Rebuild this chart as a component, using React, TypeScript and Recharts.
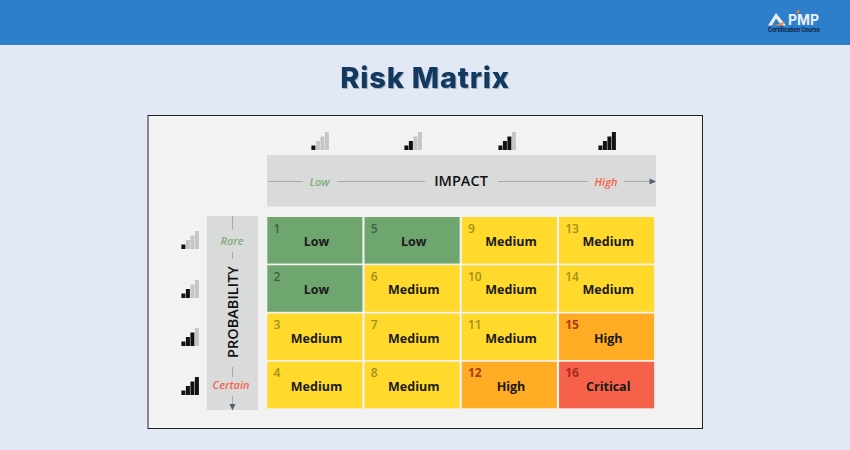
import { BarChart, Bar, XAxis, YAxis, Cell } from "recharts";

const impactLevels = ["Very low", "Low", "High", "Very high"];
const probabilityLevels = ["Rare", "Unlikely", "Likely", "Certain"];
const scores = [
  [1, 5, 9, 13],
  [2, 6, 10, 14],
  [3, 7, 11, 15],
  [4, 8, 12, 16],
];
const ratings = [
  ["Low", "Low", "Medium", "Medium"],
  ["Low", "Medium", "Medium", "Medium"],
  ["Medium", "Medium", "Medium", "High"],
  ["Medium", "Medium", "High", "Critical"],
];
const signalSteps = [1, 2, 3, 4];
const signalHeights = [4.5, 9, 13.5, 18];

const ratingFill: Record<string, string> = {
  Low: "#6fa56f",
  Medium: "#ffd92b",
  High: "#ffab24",
  Critical: "#f6614a",
};
const numberFill: Record<string, string> = {
  Low: "#3f5f45",
  Medium: "#a3901f",
  High: "#a83a14",
  Critical: "#a82a1a",
};

const matrixData = impactLevels.map((impact) => {
  const row: Record<string, string | number> = { impact };
  probabilityLevels.forEach((p) => (row[p] = 1));
  return row;
});

const fontFamily = "'Open Sans', sans-serif";

function MatrixCell(props: any, rowIdx: number) {
  const { x, width, index } = props;
  // reversed axis gives a negative height, so work from the top edge
  const y = Math.min(props.y, props.y + props.height);
  const height = Math.abs(props.height);
  const rating = ratings[rowIdx][index];
  return (
    <g>
      <rect x={x + 0.3} y={y} width={width - 1.9} height={height - 1.7} fill={ratingFill[rating]} />
      <text x={x + 6.5} y={y + 15.5} fontSize={12} fontFamily={fontFamily} fill={numberFill[rating]} fontWeight={rating === "High" || rating === "Critical" ? 700 : 600}>
        {scores[rowIdx][index]}
      </text>
      <text x={x + width / 2 + 1} y={y + 29} fontSize={12.5} fontFamily={fontFamily} fontWeight={700} fill="#1a1a1a" textAnchor="middle">
        {rating}
      </text>
    </g>
  );
}

function Signal({ left, top, active }: { left: number; top: number; active: number }) {
  const data = signalSteps.map((s, i) => ({ s, h: signalHeights[i] }));
  return (
    <div style={{ position: "absolute", left, top }}>
      <BarChart width={18} height={18} data={data} margin={{ top: 0, right: 0, bottom: 0, left: 0 }} barCategoryGap={0.4}>
        <XAxis dataKey="s" hide />
        <YAxis domain={[0, 18]} hide />
        <Bar dataKey="h" isAnimationActive={false}>
          {data.map((d) => (
            <Cell key={d.s} fill={d.s <= active ? "#111111" : "#c4c6c6"} />
          ))}
        </Bar>
      </BarChart>
    </div>
  );
}

function Decorations() {
  const line = "#a6a9ae";
  return (
    <svg width={850} height={450} style={{ position: "absolute", left: 0, top: 0 }}>
      <rect x={0} y={0} width={850} height={45} fill="#2e7fcb" />
      {/* logo */}
      <path d="M768 25.5 L776 13 L786 25.5 L781.5 25.5 L776 18.5 L772 25.5 Z" fill="#e8eef6" />
      <path d="M774 25.5 L785 21.5 L782.5 25.5 Z" fill="#e8894a" />
      <text x={788} y={24.5} fontSize={15} fontWeight={700} fontFamily="Inter, sans-serif" fill="#e8eef6" textLength={31} lengthAdjust="spacingAndGlyphs">PMP</text>
      <circle cx={798} cy={11.5} r={1.5} fill="#f47b20" />
      <text x={768} y={32} fontSize={5.5} fontWeight={700} fontFamily="Inter, sans-serif" fill="#10233f" textLength={52}>Certification Course</text>

      <text x={425} y={88} textAnchor="middle" fontSize={29} fontWeight={800} fontFamily="Inter, sans-serif" fill="#133a5e" letterSpacing={0.8} style={{ filter: "drop-shadow(1px 1px 0.5px rgba(23,57,90,0.3))" }}>
        Risk Matrix
      </text>

      <rect x={148} y={115.5} width={554.5} height={313} fill="#f2f2f2" stroke="#222222" strokeWidth={1} />

      {/* impact band */}
      <rect x={267} y={155} width={389} height={51.5} fill="#d9dbda" />
      <line x1={268} y1={181.5} x2={303} y2={181.5} stroke={line} strokeWidth={1} />
      <line x1={337} y1={181.5} x2={425} y2={181.5} stroke={line} strokeWidth={1} />
      <line x1={498} y1={181.5} x2={588} y2={181.5} stroke={line} strokeWidth={1} />
      <line x1={624} y1={181.5} x2={650} y2={181.5} stroke={line} strokeWidth={1} />
      <path d="M649.5 178.5 L656 181.5 L649.5 184.5 Z" fill="#4f6272" />
      <text x={319.5} y={185.5} textAnchor="middle" fontSize={11} fontStyle="italic" fontWeight={600} fontFamily={fontFamily} fill="#7fae7f">Low</text>
      <text x={606} y={185.5} textAnchor="middle" fontSize={11} fontStyle="italic" fontWeight={600} fontFamily={fontFamily} fill="#f6614a">High</text>
      <text x={461} y={186} textAnchor="middle" fontSize={14.5} fontWeight={600} fontFamily={fontFamily} fill="#111111">IMPACT</text>

      {/* probability band */}
      <rect x={207} y={216} width={51} height={194} fill="#d9dbda" />
      <line x1={232.5} y1={216} x2={232.5} y2={230} stroke={line} strokeWidth={1} />
      <line x1={232.5} y1={252} x2={232.5} y2={259} stroke={line} strokeWidth={1} />
      <line x1={232.5} y1={367} x2={232.5} y2={377} stroke={line} strokeWidth={1} />
      <line x1={232.5} y1={396} x2={232.5} y2={405} stroke={line} strokeWidth={1} />
      <path d="M229.5 404 L235.5 404 L232.5 410.5 Z" fill="#4f6272" />
      <text x={232} y={245} textAnchor="middle" fontSize={11} fontStyle="italic" fontWeight={600} fontFamily={fontFamily} fill="#7fae7f">Rare</text>
      <text x={231} y={389} textAnchor="middle" fontSize={11} fontStyle="italic" fontWeight={600} fontFamily={fontFamily} fill="#f6614a">Certain</text>
      <text transform="translate(238,312) rotate(-90)" textAnchor="middle" fontSize={14.5} fontWeight={600} fontFamily={fontFamily} fill="#111111">PROBABILITY</text>
    </svg>
  );
}

export default function App() {
  return (
    <div style={{ position: "absolute", left: 0, top: 0, width: 850, height: 450, background: "#e2e8f4", overflow: "hidden" }}>
      <Decorations />
      <div style={{ position: "absolute", left: 0, top: 0 }}>
        <BarChart
          width={850}
          height={450}
          data={matrixData}
          margin={{ top: 217, right: 194, bottom: 40, left: 267 }}
          barCategoryGap={0}
        >
          <XAxis dataKey="impact" hide />
          <YAxis domain={[0, 4]} reversed hide />
          {probabilityLevels.map((p, rowIdx) => (
            <Bar
              key={p}
              dataKey={p}
              stackId="matrix"
              isAnimationActive={false}
              shape={(props: any) => MatrixCell(props, rowIdx)}
            />
          ))}
        </BarChart>
      </div>
      {signalSteps.map((s, i) => (
        <Signal key={"top" + s} left={[311, 404, 497.5, 597.5][i]} top={132} active={s} />
      ))}
      {signalSteps.map((s, i) => (
        <Signal key={"left" + s} left={180.5} top={[231, 280, 328, 377][i]} active={s} />
      ))}
    </div>
  );
}
